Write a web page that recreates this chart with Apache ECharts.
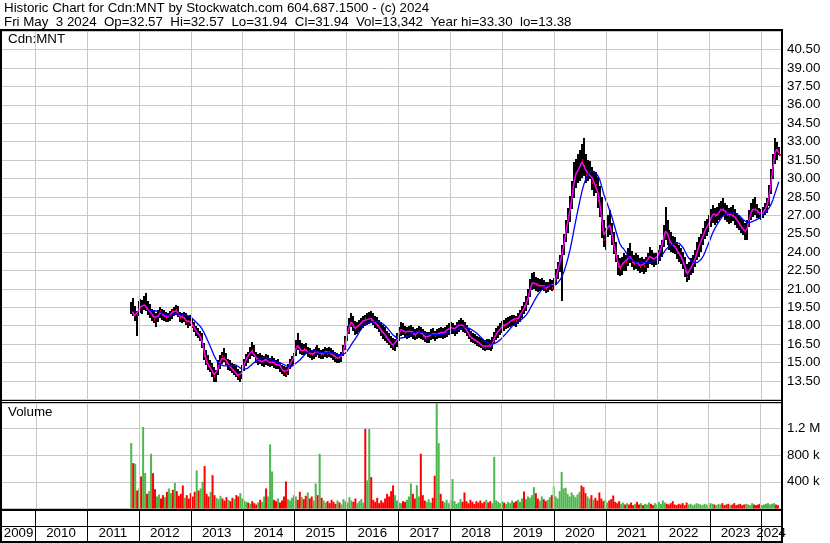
<!DOCTYPE html>
<html><head><meta charset="utf-8">
<script src="https://cdn.jsdelivr.net/npm/echarts@6/dist/echarts.min.js"></script>
<style>html,body{margin:0;padding:0;background:#fff}#c{width:830px;height:543px}</style>
</head><body><div id="c"></div>
<script>
// ---------------- DATA (bi-weekly periods) ----------------
const START_DATE = Date.UTC(2011, 10, 4);      // first period
const STEP_DAYS = 14;                           // period length
const AXIS_MIN = Date.UTC(2009, 4, 13);
const AXIS_MAX = Date.UTC(2024, 4, 18);
const years = [2009,2010,2011,2012,2013,2014,2015,2016,2017,2018,2019,2020,2021,2022,2023,2024];

const hi = [
19.9,20.3,19.6,19.2,20.0,20.2,20.1,20.4,20.7,20.0,
19.8,19.4,19.2,19.0,19.3,19.5,19.4,19.3,19.1,19.0,
19.2,19.4,19.5,19.7,19.6,19.1,19.0,19.1,19.0,18.8,
18.9,18.6,18.3,18.0,17.8,17.6,17.4,16.6,16.0,15.6,
15.2,15.0,14.6,14.4,15.2,15.6,15.9,16.2,15.8,15.3,
15.2,15.0,14.9,14.7,14.5,14.3,14.8,15.3,15.7,15.9,
16.3,16.7,16.4,15.9,15.7,15.8,15.6,15.5,15.7,15.6,
15.4,15.5,15.4,15.2,15.3,15.0,14.8,14.7,14.6,14.9,
15.3,15.5,15.8,16.8,17.4,16.8,16.6,16.5,16.6,16.3,
16.2,16.0,16.1,16.3,16.4,16.2,16.0,16.1,16.3,16.2,
16.3,16.2,16.0,15.9,15.8,15.7,15.9,16.4,17.2,18.0,
18.6,19.0,18.8,18.4,18.3,18.5,18.6,18.8,18.9,19.0,
19.1,19.2,19.0,18.8,18.7,18.5,18.3,18.1,17.9,17.6,
17.4,17.2,17.0,16.9,17.4,17.9,18.3,18.2,18.0,17.9,
18.0,18.1,17.9,17.7,17.8,18.0,17.9,17.7,17.6,17.5,
17.5,17.7,17.8,17.6,17.7,17.8,17.9,17.8,17.9,18.1,
18.2,18.3,18.2,18.1,18.3,18.5,18.6,18.5,18.3,18.1,
17.8,17.6,17.4,17.3,17.2,17.1,17.0,16.9,16.8,16.9,
16.9,16.8,17.1,17.5,17.8,18.0,18.2,18.4,18.5,18.6,
18.7,18.8,18.9,18.9,18.8,19.0,19.3,19.6,19.9,20.4,
21.0,21.8,22.3,22.4,22.0,21.9,21.8,21.9,21.7,21.6,
21.6,21.8,21.7,21.9,22.6,23.2,23.8,24.6,25.5,26.6,
27.6,28.6,29.8,31.3,31.6,32.0,32.3,32.8,33.3,32.0,
31.5,31.4,30.9,30.6,30.5,30.1,29.4,28.5,26.6,26.0,
27.0,27.4,26.4,25.6,24.8,23.8,23.5,23.6,23.9,23.8,
24.3,24.7,24.1,23.8,23.9,23.8,23.5,23.6,23.4,23.6,
23.9,24.4,24.2,23.9,23.9,24.2,24.6,25.0,26.2,27.7,
26.6,25.8,25.6,25.3,25.2,24.8,24.6,24.3,24.0,23.6,
23.0,23.2,23.5,23.8,24.2,24.8,25.2,25.5,26.0,26.5,
26.7,27.0,27.5,27.8,27.6,27.7,28.0,28.2,28.4,28.0,
27.8,27.6,27.7,27.8,27.5,27.2,27.0,26.8,26.6,26.4,
26.6,27.4,28.0,28.3,28.5,27.9,27.6,27.5,27.7,28.0,
28.4,29.5,30.8,32.0,33.3,33.0,32.57];

const lo = [
18.9,18.8,18.4,17.2,18.8,19.1,19.0,19.3,19.2,18.9,
18.7,18.4,18.2,17.9,18.3,18.6,18.5,18.4,18.3,18.3,
18.4,18.6,18.8,18.9,18.7,18.3,18.2,18.3,18.0,17.8,
18.0,17.8,17.5,17.2,17.0,16.8,16.2,15.2,14.8,14.4,
14.2,13.9,13.4,13.4,14.0,14.5,14.9,15.1,14.8,14.4,
14.3,14.2,14.0,13.8,13.6,13.4,13.7,14.3,14.7,15.0,
15.3,15.6,15.4,15.0,14.8,14.9,14.7,14.6,14.8,14.7,
14.7,14.7,14.6,14.5,14.5,14.3,14.1,13.9,13.8,14.0,
14.5,14.7,14.9,15.5,16.0,15.7,15.6,15.6,15.7,15.5,
15.4,15.2,15.3,15.5,15.6,15.4,15.3,15.3,15.5,15.4,
15.5,15.4,15.2,15.1,15.0,15.0,15.1,15.5,16.1,16.8,
17.3,17.9,17.6,17.3,17.3,17.5,17.6,17.8,18.0,18.0,
18.1,18.2,18.0,17.8,17.7,17.5,17.2,17.0,16.8,16.6,
16.4,16.2,16.0,15.9,16.3,16.8,17.2,17.2,17.0,16.9,
17.0,17.1,16.9,16.8,16.9,17.0,16.9,16.8,16.7,16.6,
16.6,16.8,16.9,16.8,16.9,17.0,17.0,16.9,17.0,17.1,
17.2,17.3,17.3,17.2,17.3,17.5,17.6,17.5,17.4,17.2,
16.9,16.7,16.6,16.5,16.4,16.3,16.2,16.0,15.9,16.0,
16.0,15.9,16.1,16.5,16.8,17.0,17.2,17.4,17.6,17.7,
17.8,17.9,18.0,18.0,17.9,18.1,18.3,18.6,18.9,19.2,
19.7,20.3,20.9,21.0,20.9,20.8,20.8,20.9,20.8,20.7,
20.8,20.9,20.8,20.9,21.3,21.8,22.4,20.0,23.8,24.8,
25.6,26.5,27.5,28.4,29.2,29.6,29.8,30.0,30.2,29.6,
29.8,29.9,29.0,28.6,28.8,27.6,26.9,25.2,24.4,24.2,
25.2,25.4,24.6,23.8,23.2,22.2,22.0,22.1,22.4,22.5,
22.8,23.1,22.8,22.6,22.6,22.5,22.3,22.4,22.2,22.4,
22.7,23.0,23.0,22.8,22.9,23.1,23.3,23.6,24.4,25.0,
24.6,24.2,24.0,23.9,23.8,23.4,23.2,23.0,22.6,22.0,
21.5,21.7,22.1,22.3,22.8,23.3,23.6,24.0,24.6,25.0,
25.3,25.6,26.0,26.3,26.2,26.4,26.6,26.8,26.9,26.6,
26.4,26.3,26.4,26.5,26.2,26.0,25.8,25.6,25.4,25.0,
25.0,26.0,26.6,26.8,27.0,26.8,26.7,26.6,26.8,27.0,
27.2,27.8,28.8,30.0,31.2,31.5,31.94];

const cl = [
19.3,19.0,18.6,18.9,19.6,19.5,19.8,19.6,19.4,19.2,
19.0,18.8,18.5,18.6,19.0,19.2,18.9,18.7,18.6,18.8,
19.0,19.2,19.1,19.3,18.9,18.6,18.8,18.5,18.3,18.4,
18.2,18.0,17.7,17.4,17.3,17.0,16.4,15.5,15.0,14.7,
14.5,14.2,13.8,14.1,14.9,15.2,15.5,15.4,15.0,14.8,
14.6,14.4,14.3,14.0,13.9,13.8,14.5,15.0,15.4,15.6,
15.9,16.0,15.6,15.3,15.2,15.1,15.0,15.2,15.3,15.0,
15.0,15.2,14.9,14.8,15.0,14.6,14.4,14.2,14.1,14.6,
15.0,15.2,15.6,16.5,16.3,16.0,15.9,16.1,16.0,15.8,
15.7,15.6,15.8,16.0,15.9,15.7,15.6,15.8,16.0,15.7,
15.9,15.7,15.5,15.4,15.3,15.4,15.6,16.2,17.0,17.6,
18.2,18.4,17.9,17.7,18.0,18.1,18.3,18.5,18.6,18.4,
18.7,18.5,18.3,18.2,18.0,17.8,17.5,17.4,17.1,16.9,
16.7,16.5,16.3,16.6,17.1,17.6,17.8,17.6,17.4,17.5,
17.6,17.7,17.3,17.2,17.5,17.6,17.4,17.2,17.0,17.1,
17.2,17.4,17.3,17.2,17.4,17.5,17.4,17.3,17.6,17.7,
17.8,17.9,17.7,17.8,18.0,18.1,18.2,17.9,17.8,17.5,
17.2,17.0,16.9,16.8,16.7,16.6,16.4,16.3,16.2,16.5,
16.4,16.3,16.8,17.2,17.5,17.6,17.9,18.1,18.0,18.2,
18.3,18.4,18.6,18.5,18.4,18.8,19.0,19.3,19.6,20.0,
20.6,21.4,21.6,21.5,21.3,21.2,21.3,21.4,21.1,21.0,
21.2,21.4,21.1,21.6,22.3,22.9,23.5,24.2,25.2,26.2,
27.0,27.9,29.0,30.3,30.5,30.8,31.2,31.5,31.0,30.3,
30.5,30.6,29.6,29.8,29.5,28.2,27.6,25.8,25.0,25.6,
26.4,26.0,25.0,24.2,23.6,22.8,22.6,23.0,23.3,23.2,
23.7,23.6,23.2,23.0,23.3,23.0,22.8,23.1,22.9,23.2,
23.5,23.8,23.5,23.4,23.5,23.8,24.2,24.6,25.6,25.8,
25.2,24.8,24.6,24.5,24.3,23.9,23.8,23.4,23.0,22.4,
22.0,22.6,23.0,23.2,23.8,24.3,24.8,25.1,25.6,26.0,
26.2,26.6,27.0,27.2,26.9,27.1,27.4,27.6,27.5,27.2,
27.0,26.9,27.2,27.0,26.7,26.5,26.2,26.0,25.8,25.6,
26.2,27.0,27.4,27.6,27.5,27.3,27.1,27.0,27.3,27.6,
28.0,29.0,30.2,31.5,32.6,32.2,31.94];

// largest daily volume in each period, thousands of shares
const volK = [
980,680,670,270,300,480,1220,530,220,260,
820,530,290,180,210,150,200,170,250,300,
230,280,385,260,190,220,345,160,200,150,
230,180,250,570,270,300,400,635,220,180,
250,500,200,160,140,190,150,120,170,130,
110,160,140,200,180,230,150,120,100,90,
70,110,80,60,90,130,100,180,300,180,
960,555,130,110,150,90,120,180,405,140,
120,160,200,180,130,250,170,140,190,240,
150,180,120,375,200,820,160,120,90,110,
80,130,100,70,120,90,60,140,110,90,
170,120,100,150,80,110,140,90,1190,420,
1190,470,130,100,160,80,120,90,150,220,
180,260,345,200,120,90,80,110,100,130,
180,375,220,150,350,180,820,200,120,100,
140,90,160,490,1700,980,220,110,90,130,
80,120,440,110,70,90,140,100,240,110,
80,130,100,70,110,90,120,80,100,130,
90,110,80,775,120,100,80,110,90,70,
100,80,120,90,110,130,100,150,255,140,
180,160,200,320,230,150,120,180,140,110,
130,170,200,330,180,150,260,545,300,310,
220,180,240,200,170,210,250,345,320,230,
180,150,200,130,160,120,240,150,110,130,
90,120,140,195,100,80,110,70,90,60,
80,60,90,50,70,100,60,80,50,70,
60,90,70,50,80,60,100,70,120,90,
70,60,80,110,60,50,70,60,80,50,
90,60,70,50,60,80,70,60,50,70,
60,50,80,70,60,50,70,60,80,50,
60,70,50,60,80,50,60,70,50,60,
70,60,50,80,60,50,60,70,50,60,
70,80,60,70,80,60,50];

// g = up period, r = down period
const dir = (
"grgrgrggrg grrggrrgrg grgrrrrgrr rrrgrggrrr grrgggrrrg rrgrrggggr grrrgrggrg ggrrgrrrrg " +
"ggggrrgrrg rrggrgrggr rrrrgrgggg ggrrggggrg grrrrrrrrr rrrggggrrg ggrrggrrrg ggrrggrrgg " +
"gggggggrrr rrrrrrrrrg rrggggggrg gggrrgggrg ggggrrggrr ggrggggggg gggggggrrr ggrgrrrrrg " +
"grrrrrrggr grrrgrrgrg ggrrgggggg rrrrrrrrrr rggggggggg ggggrgggrr rrgrrrrrrr ggggrrrrgg gggggrr"
).replace(/ /g, "");

const PRICE_MIN = 12, PRICE_MAX = 42, PRICE_STEP = 1.5;
const VOL_MAX = 1580000, VOL_STEP = 400000;
const MA_SHORT = 2, MA_LONG = 10;   // periods

// ---------------- BUILD ----------------
const DAY = 86400000;
const ts = hi.map((_, i) => START_DATE + i * STEP_DAYS * DAY);
function sma(arr, n) {
  return arr.map((_, i) => {
    if (i < n - 1) return null;
    let s = 0; for (let k = i - n + 1; k <= i; k++) s += arr[k];
    return s / n;
  });
}
const maS = sma(cl, MA_SHORT), maL = sma(cl, MA_LONG);
const yearStarts = years.slice(1).map(y => Date.UTC(y, 0, 1));
const yearMids = years.map(y => {
  const a = Math.max(Date.UTC(y, 0, 1), AXIS_MIN), b = Math.min(Date.UTC(y + 1, 0, 1), AXIS_MAX);
  return [(a + b) / 2, y];
});

const FONT_FAMILY = '"Liberation Sans", Arial, sans-serif';
const FS = 13.33;
const GRID_COLOR = '#c8c8c8';
const GREEN = '#4cb84c', RED = '#ff0000';

const chart = echarts.init(document.getElementById('c'), null, {renderer: 'canvas'});

const vGrid = (xi, yi) => ({
  type: 'line', xAxisIndex: xi, yAxisIndex: yi, data: [], z: 0, silent: true,
  markLine: {
    silent: true, symbol: ['none', 'none'], animation: false,
    label: {show: false}, emphasis: {disabled: true},
    lineStyle: {color: GRID_COLOR, width: 1, type: 'solid'},
    data: yearStarts.map(t => ({xAxis: t}))
  }
});

const option = {
  animation: false,
  backgroundColor: '#fff',
  grid: [
    {left: 2, right: 49, top: 31.1, height: 368.3},
    {left: 2, right: 49, top: 403, height: 105.5},
    {left: 2, right: 49, top: 511, height: 30}
  ],
  xAxis: [0, 1, 2].map(g => ({
    type: 'time', gridIndex: g, min: AXIS_MIN, max: AXIS_MAX,
    axisLine: {show: false}, axisTick: {show: false}, axisLabel: {show: false}, splitLine: {show: false}
  })),
  yAxis: [
    {
      type: 'value', gridIndex: 0, position: 'right', min: PRICE_MIN, max: PRICE_MAX, interval: PRICE_STEP,
      axisLine: {show: false}, axisTick: {show: false},
      splitLine: {show: true, lineStyle: {color: GRID_COLOR, width: 1}},
      axisLabel: {margin: 6, color: '#000', fontFamily: FONT_FAMILY, fontSize: FS,
        formatter: v => (v > PRICE_MIN + 0.1 && v < PRICE_MAX - 0.1) ? v.toFixed(2) : ''}
    },
    {
      type: 'value', gridIndex: 1, position: 'right', min: 0, max: VOL_MAX, interval: VOL_STEP,
      axisLine: {show: false}, axisTick: {show: false},
      splitLine: {show: true, lineStyle: {color: GRID_COLOR, width: 1}},
      axisLabel: {margin: 6, color: '#000', fontFamily: FONT_FAMILY, fontSize: FS,
        formatter: v => {
          if (v <= 0 || v >= VOL_MAX || v % VOL_STEP !== 0) return '';
          return v >= 1e6 ? (v / 1e6) + ' M' : (v / 1000) + ' k';
        }}
    },
    {type: 'value', gridIndex: 2, min: 0, max: 2, show: false}
  ],
  series: [
    vGrid(0, 0),
    vGrid(1, 1),
    {
      type: 'custom', name: 'price', xAxisIndex: 0, yAxisIndex: 0, z: 2, silent: true, clip: true,
      data: ts.map((t, i) => [t, hi[i], lo[i], cl[i], dir[i] === 'r' ? 1 : 0]),
      encode: {x: 0, y: [1, 2]},
      renderItem: (params, api) => {
        const t = api.value(0);
        const pH = api.coord([t, api.value(1)]);
        const pL = api.coord([t, api.value(2)]);
        const pC = api.coord([t, api.value(3)]);
        const x = Math.round(pH[0]) - 1;
        const kids = [{type: 'rect', shape: {x: x, y: Math.round(pH[1]), width: 2, height: Math.max(1, Math.round(pL[1] - pH[1]))}, style: {fill: '#000'}}];
        if (api.value(4) === 1) kids.push({type: 'rect', shape: {x: x + 1, y: Math.round(pC[1]) - 1, width: 2, height: 2}, style: {fill: RED}});
        return {type: 'group', children: kids};
      }
    },
    {
      type: 'line', name: 'ma short', xAxisIndex: 0, yAxisIndex: 0, z: 3, silent: true,
      data: ts.map((t, i) => [t, maS[i]]), showSymbol: false, symbol: 'none',
      lineStyle: {color: '#ff00ff', width: 1.5}
    },
    {
      type: 'line', name: 'ma long', xAxisIndex: 0, yAxisIndex: 0, z: 4, silent: true,
      data: ts.map((t, i) => [t, maL[i]]), showSymbol: false, symbol: 'none',
      lineStyle: {color: '#0000ff', width: 1.3}
    },
    {
      type: 'bar', name: 'volume', xAxisIndex: 1, yAxisIndex: 1, z: 2, silent: true, barWidth: 2,
      data: ts.map((t, i) => ({value: [t, volK[i] * 1000], itemStyle: {color: dir[i] === 'r' ? RED : GREEN}}))
    },
    {
      type: 'custom', name: 'year lines', xAxisIndex: 2, yAxisIndex: 2, silent: true,
      data: yearStarts.map(t => [t]),
      renderItem: (params, api) => {
        const a = api.coord([api.value(0), 0]), b = api.coord([api.value(0), 2]);
        const x = Math.round(a[0]) + 0.5;
        return {type: 'line', shape: {x1: x, y1: a[1], x2: x, y2: b[1]}, style: {stroke: '#000', lineWidth: 1}};
      }
    },
    {
      type: 'custom', name: 'year labels', xAxisIndex: 2, yAxisIndex: 2, silent: true, clip: false,
      data: yearMids,
      renderItem: (params, api) => {
        const p = api.coord([api.value(0), 0.5]);
        return {type: 'text', x: p[0], y: p[1], style: {text: String(api.value(1)), fill: '#000',
          font: FS + 'px ' + FONT_FAMILY, align: 'center', verticalAlign: 'middle',
          textAlign: 'center', textVerticalAlign: 'middle'}};
      }
    }
  ],
  graphic: [
    // header text
    {type: 'text', left: 4, top: 2, z: 100, style: {text: 'Historic Chart for Cdn:MNT by Stockwatch.com 604.687.1500 - (c) 2024', fill: '#000', font: FS + 'px ' + FONT_FAMILY}},
    {type: 'text', left: 4, top: 16, z: 100, style: {text: 'Fri May  3 2024  Op=32.57  Hi=32.57  Lo=31.94  Cl=31.94  Vol=13,342  Year hi=33.30  lo=13.38', fill: '#000', font: FS + 'px ' + FONT_FAMILY}},
    {type: 'text', left: 8, top: 33, z: 100, style: {text: 'Cdn:MNT', fill: '#000', font: FS + 'px ' + FONT_FAMILY}},
    {type: 'text', left: 8, top: 406, z: 100, style: {text: 'Volume', fill: '#000', font: FS + 'px ' + FONT_FAMILY}},
    // frame
    {type: 'rect', z: 100, silent: true, shape: {x: 0, y: 29, width: 783, height: 2}, style: {fill: '#000'}},
    {type: 'rect', z: 100, silent: true, shape: {x: 0, y: 29, width: 2, height: 514}, style: {fill: '#000'}},
    {type: 'rect', z: 100, silent: true, shape: {x: 781, y: 29, width: 2, height: 514}, style: {fill: '#000'}},
    {type: 'rect', z: 100, silent: true, shape: {x: 0, y: 400, width: 783, height: 1}, style: {fill: '#000'}},
    {type: 'rect', z: 100, silent: true, shape: {x: 0, y: 402, width: 783, height: 1}, style: {fill: '#000'}},
    {type: 'rect', z: 100, silent: true, shape: {x: 0, y: 509, width: 783, height: 2}, style: {fill: '#000'}},
    {type: 'rect', z: 100, silent: true, shape: {x: 0, y: 526, width: 783, height: 1}, style: {fill: '#000'}},
    {type: 'rect', z: 100, silent: true, shape: {x: 0, y: 541, width: 783, height: 2}, style: {fill: '#000'}}
  ]
};
chart.setOption(option);
</script>
</body></html>
